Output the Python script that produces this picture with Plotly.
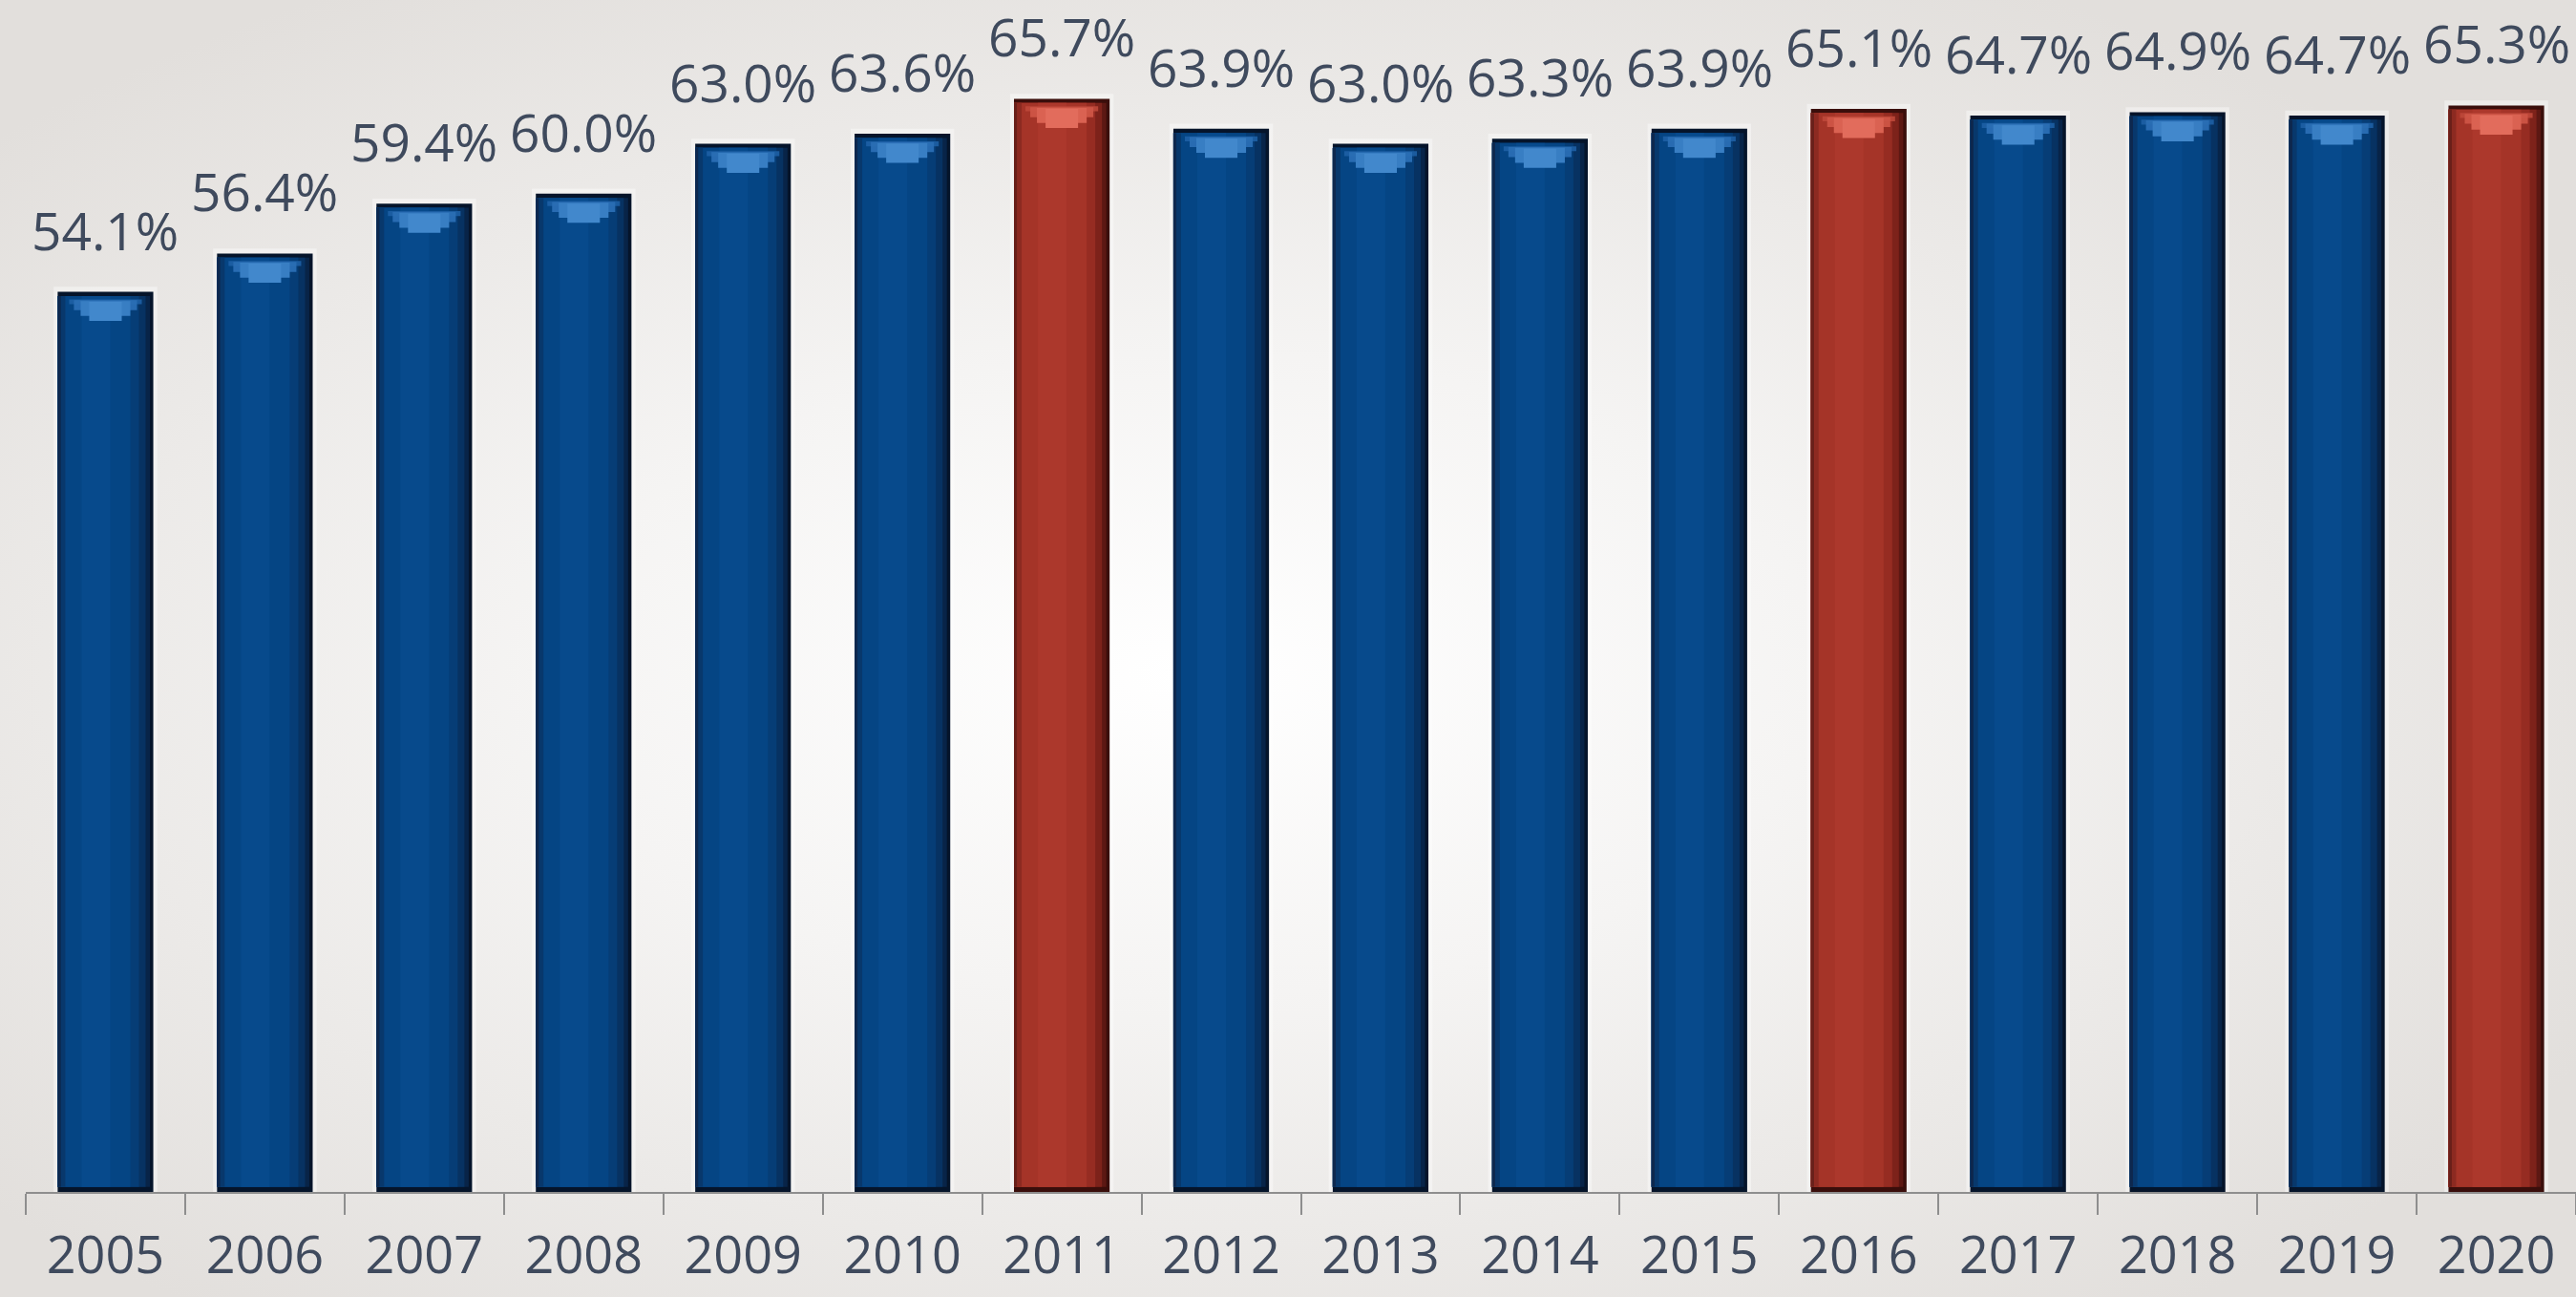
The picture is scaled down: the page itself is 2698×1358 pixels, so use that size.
import base64
import plotly.graph_objects as go

# Yearly share values (%) and which years are emphasised in red
years = ["2005", "2006", "2007", "2008", "2009", "2010", "2011", "2012",
         "2013", "2014", "2015", "2016", "2017", "2018", "2019", "2020"]
values = [54.1, 56.4, 59.4, 60.0, 63.0, 63.6, 65.7, 63.9,
          63.0, 63.3, 63.9, 65.1, 64.7, 64.9, 64.7, 65.3]
highlight_years = ["2011", "2016", "2020"]

W, H = 2698, 1358
M_L, M_R, M_T, M_B = 27, 0, 0, 110
PLOT_W = W - M_L - M_R
PLOT_H = H - M_T - M_B
Y_MAX = 71.64

FONT = "Open Sans"
TEXT_COLOR = "#3f4a5d"

is_hl = [y in highlight_years for y in years]


def pick(blue, red):
    return [red if h else blue for h in is_hl]


BAR_W = 0.6
LEFT = -BAR_W / 2

# Horizontal shading of each column: (start, end) as fraction of width, blue, red
shading = [
    (0.00, 1.00, "rgb(5,20,42)", "rgb(58,14,11)"),
    (0.00, 0.965, "rgb(8,36,72)", "rgb(92,24,19)"),
    (0.00, 0.92, "rgb(7,50,98)", "rgb(125,34,26)"),
    (0.00, 0.85, "rgb(6,61,118)", "rgb(150,44,34)"),
    (0.00, 0.76, "rgb(5,69,132)", "rgb(165,52,40)"),
    (0.00, 0.035, "rgb(14,40,78)", "rgb(105,32,26)"),
    (0.035, 0.08, "rgb(8,56,108)", "rgb(140,42,33)"),
    (0.25, 0.55, "rgb(7,74,140)", "rgb(172,56,44)"),
]

fig = go.Figure()

# soft light halo around each column
fig.add_trace(go.Bar(
    x=years, y=[v + 0.3 for v in values], width=BAR_W + 0.05,
    offset=LEFT - 0.025, marker=dict(color="rgba(255,255,255,0.4)", line_width=0),
    hoverinfo="skip", showlegend=False,
))

for i, (a, b, cb, cr) in enumerate(shading):
    if i == 0:
        base, heights = None, values
    else:
        # inner layers leave a thin darker rim at top and bottom
        base = [0.3] * len(values)
        heights = [v - 0.55 for v in values]
    fig.add_trace(go.Bar(
        x=years, y=heights, base=base,
        width=BAR_W * (b - a), offset=LEFT + BAR_W * a,
        marker=dict(color=pick(cb, cr), line_width=0),
        hoverinfo="skip", showlegend=False,
    ))

# bowl-shaped gloss just under the top of each column
gloss = [
    (0.12, 0.88, 0.45, 0.75, "rgba(30,95,165,0.9)", "rgba(190,72,58,0.9)"),
    (0.17, 0.83, 0.50, 1.10, "rgba(42,110,180,0.95)", "rgba(205,85,70,0.95)"),
    (0.24, 0.76, 0.55, 1.45, "rgba(56,126,195,1)", "rgba(218,98,82,1)"),
    (0.33, 0.67, 0.60, 1.75, "rgba(66,136,204,1)", "rgba(226,108,92,1)"),
]
for a, b, top_gap, depth, cb, cr in gloss:
    fig.add_trace(go.Bar(
        x=years, y=[depth - top_gap] * len(values),
        base=[v - depth for v in values],
        width=BAR_W * (b - a), offset=LEFT + BAR_W * a,
        marker=dict(color=pick(cb, cr), line_width=0),
        hoverinfo="skip", showlegend=False,
    ))

# value labels above the columns (category index as x position)
for i, v in enumerate(values):
    fig.add_annotation(
        x=i, y=v, xref="x", yref="y", text=f"{v:.1f}%", showarrow=False,
        xanchor="center", yanchor="bottom", yshift=26,
        font=dict(family=FONT, size=55, color=TEXT_COLOR),
    )

# radial light background
svg = f"""<svg xmlns="http://www.w3.org/2000/svg" width="{W}" height="{H}" viewBox="0 0 {W} {H}" preserveAspectRatio="none">
<defs><radialGradient id="g" cx="0.46" cy="0.52" r="0.62">
<stop offset="0" stop-color="#ffffff"/>
<stop offset="0.40" stop-color="#f5f4f3"/>
<stop offset="1" stop-color="#e2dfdc"/>
</radialGradient></defs>
<rect width="100%" height="100%" fill="url(#g)"/></svg>"""
bg_uri = "data:image/svg+xml;base64," + base64.b64encode(svg.encode()).decode()

fig.update_layout(
    width=W, height=H,
    margin=dict(l=M_L, r=M_R, t=M_T, b=M_B, autoexpand=False),
    barmode="overlay",
    paper_bgcolor="#e8e5e3",
    plot_bgcolor="rgba(0,0,0,0)",
    showlegend=False,
    images=[dict(
        source=bg_uri, xref="paper", yref="paper",
        x=-M_L / PLOT_W, y=1 + M_T / PLOT_H,
        sizex=W / PLOT_W, sizey=H / PLOT_H,
        xanchor="left", yanchor="top", sizing="stretch", layer="below",
    )],
    xaxis=dict(
        type="category", range=[-0.5, len(years) - 0.5],
        showline=True, linecolor="#8e8e8e", linewidth=2,
        ticks="outside", tickson="boundaries", ticklen=22, tickwidth=2,
        tickcolor="#8e8e8e", showgrid=False, zeroline=False,
        tickfont=dict(family=FONT, size=54, color=TEXT_COLOR),
        ticklabelstandoff=18, automargin=False,
    ),
    yaxis=dict(range=[0, Y_MAX], visible=False, showgrid=False, zeroline=False),
)

fig.write_html("out.html")
